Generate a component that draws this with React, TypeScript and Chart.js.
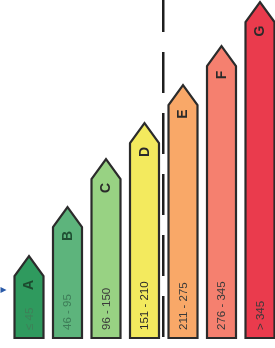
import React, { useEffect, useRef } from "react";
import { Chart, registerables } from "chart.js";

Chart.register(...registerables);

const classes = ["A", "B", "C", "D", "E", "F", "G"];
const ranges = ["≤ 45", "46 - 95", "96 - 150", "151 - 210", "211 - 275", "276 - 345", "> 345"];
const heights = [82, 131, 179, 215, 253, 292, 336];
const fillColors = ["#2f9a5e", "#5db47c", "#98d283", "#f3ea5e", "#f9a868", "#f5806f", "#ea3b4d"];
const letterColors = ["#1c4a2e", "#1f4f33", "#2a2a2a", "#2a2a2a", "#2a2a2a", "#2a2a2a", "#2a2a2a"];
const rangeColors = ["#3f7f58", "#3d7c57", "#3a3a3a", "#2a2a2a", "#3a3a3a", "#3a3a3a", "#3a3a3a"];

const arrowPlugin = {
  id: "arrowPlugin",
  afterDatasetsDraw(chart: any) {
    const ctx = chart.ctx;
    const meta = chart.getDatasetMeta(0);
    const tip = 20;
    ctx.save();
    meta.data.forEach((el: any, i: number) => {
      const x = el.x;
      const top = el.y;
      const base = el.base;
      const w = el.width;
      ctx.beginPath();
      ctx.moveTo(x - w / 2, base);
      ctx.lineTo(x - w / 2, top + tip);
      ctx.lineTo(x, top);
      ctx.lineTo(x + w / 2, top + tip);
      ctx.lineTo(x + w / 2, base);
      ctx.closePath();
      ctx.fillStyle = fillColors[i];
      ctx.fill();
      ctx.lineWidth = 2.2;
      ctx.lineJoin = "miter";
      ctx.strokeStyle = "#2b2b2b";
      ctx.stroke();

      // letter
      ctx.save();
      ctx.translate(x + 0.5, top + tip + 9);
      ctx.rotate(-Math.PI / 2);
      ctx.font = "bold 14px 'Liberation Sans', Arial, sans-serif";
      ctx.fillStyle = letterColors[i];
      ctx.textAlign = "center";
      ctx.textBaseline = "middle";
      ctx.fillText(classes[i], 0, 0);
      ctx.restore();

      // range
      ctx.save();
      ctx.translate(x + 0.5, base - 8);
      ctx.rotate(-Math.PI / 2);
      ctx.font = "11.5px 'Liberation Sans', Arial, sans-serif";
      ctx.fillStyle = rangeColors[i];
      ctx.textAlign = "left";
      ctx.textBaseline = "middle";
      ctx.fillText(ranges[i], 0, 0);
      ctx.restore();
    });

    // dashed divider between D and E
    const d = meta.data[3];
    const e = meta.data[4];
    const lx = (d.x + e.x) / 2 - 0.5;
    ctx.beginPath();
    ctx.setLineDash([41, 20]);
    ctx.lineDashOffset = 9;
    ctx.moveTo(lx, chart.chartArea.top);
    ctx.lineTo(lx, d.base + 2);
    ctx.lineWidth = 2.5;
    ctx.strokeStyle = "#1e1e1e";
    ctx.stroke();
    ctx.setLineDash([]);

    // small blue pointer at left
    const a = meta.data[0];
    const py = a.base - 48;
    const px = a.x - a.width / 2 - 8;
    ctx.beginPath();
    ctx.moveTo(px - 6, py - 3);
    ctx.lineTo(px, py);
    ctx.lineTo(px - 6, py + 3);
    ctx.closePath();
    ctx.fillStyle = "#2a5aa8";
    ctx.fill();
    ctx.restore();
  },
};

export default function App() {
  const ref = useRef<HTMLCanvasElement>(null);
  useEffect(() => {
    if (!ref.current) return;
    const chart = new Chart(ref.current, {
      type: "bar",
      data: {
        labels: classes,
        datasets: [
          {
            data: heights,
            backgroundColor: "rgba(0,0,0,0)",
            borderWidth: 0,
            barThickness: 29,
            clip: false as any,
          },
        ],
      },
      options: {
        animation: false,
        responsive: false,
        maintainAspectRatio: false,
        layout: { padding: { left: 29, right: 15, top: 0, bottom: 10 } },
        plugins: { legend: { display: false }, tooltip: { enabled: false } },
        scales: {
          x: { display: false, offset: false, grid: { display: false } },
          y: { display: false, min: 0, max: 338 },
        },
      },
      plugins: [arrowPlugin],
    });
    return () => chart.destroy();
  }, []);
  return (
    <div style={{ position: "fixed", left: 0, top: 0, width: 275, height: 348, background: "#fff" }}>
      <canvas ref={ref} width={275} height={348} style={{ width: 275, height: 348 }} />
    </div>
  );
}
